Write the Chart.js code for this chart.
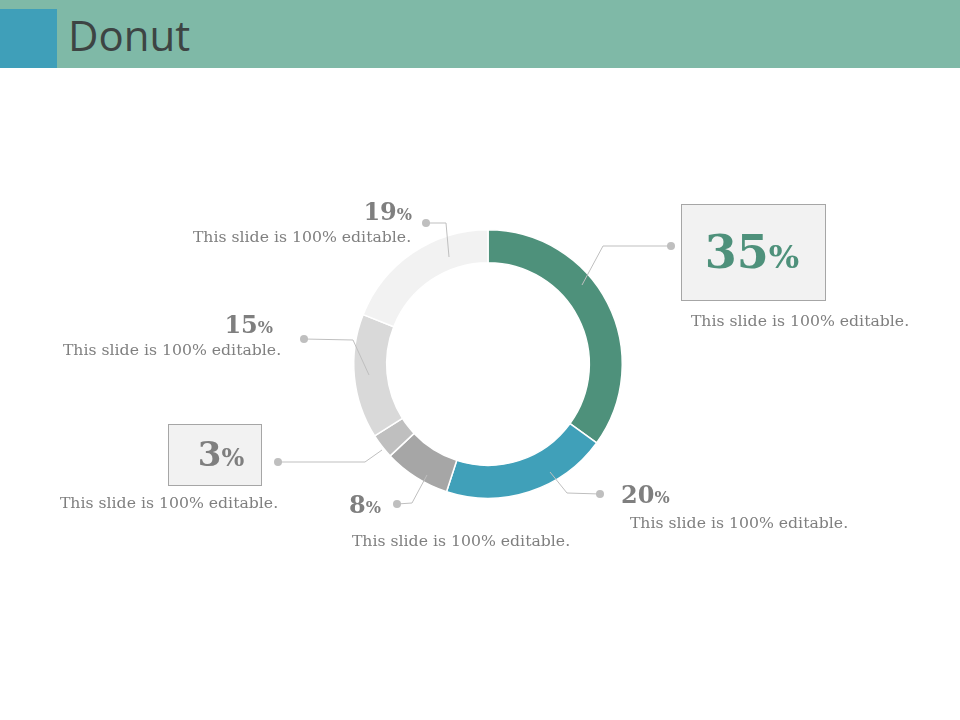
<!DOCTYPE html>
<html>
<head>
<meta charset="utf-8">
<script src="https://cdn.jsdelivr.net/npm/chart.js@4.4.0/dist/chart.umd.min.js"></script>
<style>
  html, body { margin: 0; padding: 0; background: #fff; }
  body { width: 960px; height: 720px; position: relative; overflow: hidden; }
  #header { position: absolute; left: 0; top: 0; width: 960px; height: 68px; background: #7fb9a7; }
  #square { position: absolute; left: 0; top: 9px; width: 57px; height: 59px; background: #3f9fb9; }
  #title { position: absolute; left: 68px; top: 6px; font-family: "Open Sans", sans-serif; font-size: 42px; color: #3d4443; }
  #wrap { position: absolute; left: 0; top: 68px; width: 960px; height: 652px; }
</style>
</head>
<body>
<div id="header"></div>
<div id="square"></div>
<div id="title">Donut</div>
<div id="wrap"><canvas id="donutChart"></canvas></div>
<script>
// slice data, clockwise from 12 o'clock
const labels = ['35%', '20%', '8%', '3%', '15%', '19%'];
const values = [35, 20, 8, 3, 15, 19];
const colors = ['#4e917b', '#40a0b9', '#a6a6a6', '#bfbfbf', '#d9d9d9', '#f2f2f2'];
const caption = 'This slide is 100% editable.';

const GRAY = '#7f7f7f';
const LINE = '#bfbfbf';
const SERIF = '"DejaVu Serif", serif';

// callout layout for each slice (offsets from donut centre)
// pts: leader polyline, num: where the percentage goes, cap: caption position
const callouts = [
  { pts: [[94, -79], [115, -118], [183, -118]], box: [193, -160, 144, 96], num: [264, -96], align: 'center', big: 46, small: 32, color: '#4e917b', cap: [312, -38], capAlign: 'center' },
  { pts: [[62, 108], [79, 129], [112, 130]], num: [133, 139], align: 'left', big: 24, small: 16, color: GRAY, cap: [251, 164], capAlign: 'center' },
  { pts: [[-61, 111], [-76, 139], [-91, 140]], num: [-107, 149], align: 'right', big: 24, small: 16, color: GRAY, cap: [-27, 182], capAlign: 'center' },
  { pts: [[-106, 86], [-123, 98], [-210, 98]], box: [-320, 60, 93, 61], num: [-267, 102], align: 'center', big: 34, small: 24, color: GRAY, cap: [-319, 144], capAlign: 'center' },
  { pts: [[-119, 11], [-135, -24], [-184, -25]], num: [-215, -31], align: 'right', big: 24, small: 16, color: GRAY, cap: [-316, -9], capAlign: 'center' },
  { pts: [[-39, -107], [-42, -141], [-62, -141]], num: [-76, -144], align: 'right', big: 24, small: 16, color: GRAY, cap: [-186, -122], capAlign: 'center' }
];

function drawPct(ctx, text, x, y, align, big, small, color) {
  const num = text.replace('%', '');
  ctx.fillStyle = color;
  ctx.textBaseline = 'alphabetic';
  ctx.textAlign = 'left';
  ctx.font = 'bold ' + big + 'px ' + SERIF;
  const w1 = ctx.measureText(num).width;
  ctx.font = 'bold ' + small + 'px ' + SERIF;
  const w2 = ctx.measureText('%').width;
  let x0 = x;
  if (align === 'right') x0 = x - w1 - w2;
  if (align === 'center') x0 = x - (w1 + w2) / 2;
  ctx.font = 'bold ' + big + 'px ' + SERIF;
  ctx.fillText(num, x0, y);
  ctx.font = 'bold ' + small + 'px ' + SERIF;
  ctx.fillText('%', x0 + w1, y);
}

const calloutPlugin = {
  id: 'callouts',
  afterDatasetsDraw(chart) {
    const ctx = chart.ctx;
    const arc = chart.getDatasetMeta(0).data[0];
    const cx = arc.x, cy = arc.y;
    ctx.save();
    callouts.forEach((c, i) => {
      if (c.box) {
        ctx.fillStyle = '#f2f2f2';
        ctx.strokeStyle = '#a6a6a6';
        ctx.lineWidth = 1;
        ctx.fillRect(cx + c.box[0], cy + c.box[1], c.box[2], c.box[3]);
        ctx.strokeRect(cx + c.box[0] + 0.5, cy + c.box[1] + 0.5, c.box[2], c.box[3]);
      }
      ctx.strokeStyle = LINE;
      ctx.lineWidth = 1;
      ctx.beginPath();
      c.pts.forEach((p, j) => {
        if (j === 0) ctx.moveTo(cx + p[0], cy + p[1]);
        else ctx.lineTo(cx + p[0], cy + p[1]);
      });
      ctx.stroke();
      const end = c.pts[c.pts.length - 1];
      ctx.fillStyle = LINE;
      ctx.beginPath();
      ctx.arc(cx + end[0], cy + end[1], 4, 0, Math.PI * 2);
      ctx.fill();

      drawPct(ctx, labels[i], cx + c.num[0], cy + c.num[1], c.align, c.big, c.small, c.color);

      ctx.fillStyle = GRAY;
      ctx.font = '15.7px ' + SERIF;
      ctx.textAlign = c.capAlign;
      ctx.fillText(caption, cx + c.cap[0], cy + c.cap[1]);
    });
    ctx.restore();
  }
};

const ctx = document.getElementById('donutChart').getContext('2d');
new Chart(ctx, {
  type: 'doughnut',
  data: {
    labels,
    datasets: [{
      data: values,
      backgroundColor: colors,
      borderColor: '#ffffff',
      borderWidth: 1.5
    }]
  },
  options: {
    responsive: true,
    maintainAspectRatio: false,
    animation: false,
    cutout: '75.5%',
    layout: { padding: { left: 353, right: 337, top: 161, bottom: 221 } },
    plugins: {
      legend: { display: false },
      tooltip: { enabled: false }
    }
  },
  plugins: [calloutPlugin]
});
</script>
</body>
</html>
